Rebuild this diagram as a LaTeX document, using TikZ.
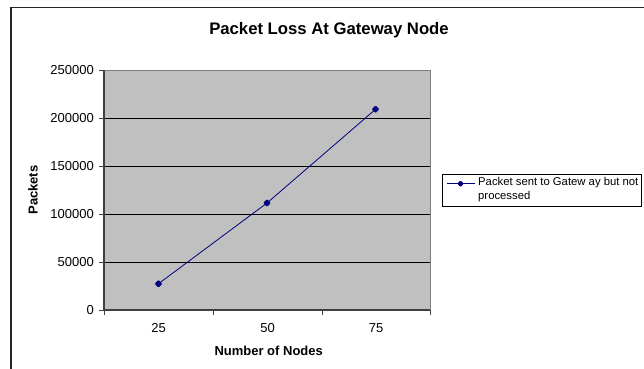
\documentclass[tikz,border=0pt]{standalone}
\usepackage{fontspec}
\setmainfont{Liberation Sans}
\usetikzlibrary{shapes.geometric}
\definecolor{plotbg}{HTML}{C0C0C0}
\definecolor{series}{HTML}{000080}
\definecolor{axisdark}{HTML}{404040}
\definecolor{frameedge}{HTML}{808080}
\tikzset{
  px/.style={x=1pt,y=-1pt},
  ticklabel/.style={font=\fontsize{13}{13}\selectfont, inner sep=0pt},
  axistitle/.style={font=\bfseries\fontsize{13}{13}\selectfont, inner sep=0pt},
  gridline/.style={draw=black, line width=0.8pt},
  datapt/.style={diamond, fill=series, draw=series, line width=0.6pt, rounded corners=0.8pt, inner sep=0pt, minimum size=7pt},
  serie/.style={draw=series, line width=0.8pt}
}
\begin{document}
\begin{tikzpicture}[px]
\useasboundingbox (0,0) rectangle (644,368);
% chart frame (continues past the page edges)
\draw[line width=1.4pt, draw=black!85] (11,370) -- (11,7.5) -- (646,7.5);
% title
\node[font=\bfseries\fontsize{16.7}{16.7}\selectfont, inner sep=0pt] (title) at (329,30) {Packet Loss At Gateway Node};
% plot area
\fill[plotbg] (104,70) rectangle (430,310);
\draw[frameedge, line width=0.9pt] (104,70) -- (430,70) -- (430,310);
% horizontal grid lines (values in thousands, 0.96 px per thousand)
\foreach \v in {50,100,150,200} {
  \draw[gridline] (104,{310-\v*0.96}) -- (430,{310-\v*0.96});
}
% axes
\draw[axisdark, line width=1.3pt] (104,70) -- (104,310) -- (430,310);
% y ticks and labels
\foreach \v/\t in {0/0,50/50000,100/100000,150/150000,200/200000,250/250000} {
  \draw[axisdark, line width=0.9pt] (99,{310-\v*0.96}) -- (104,{310-\v*0.96});
  \node[ticklabel, anchor=east] at (94,{310-\v*0.96}) {\t};
}
% x ticks
\foreach \x in {104,213,322,430} {
  \draw[axisdark, line width=0.9pt] (\x,310) -- (\x,314.5);
}
% x labels
\node[ticklabel] (l25) at (158.5,328) {25};
\node[ticklabel] (l50) at (267.5,328) {50};
\node[ticklabel] (l75) at (376,328) {75};
% axis titles
\node[axistitle, rotate=90] (ytitle) at (33,190) {Packets};
\node[axistitle] (xtitle) at (268.7,350.7) {Number of Nodes};
% data series
\node[datapt] (p25) at (158.5,283.7) {};
\node[datapt] (p50) at (267,203) {};
\node[datapt] (p75) at (375.5,109.3) {};
\draw[serie] (p25.center) -- (p50.center) -- (p75.center);
% legend
\draw[black, line width=0.9pt] (442.5,174) rectangle (641.3,206.3);
\coordinate (la) at (446.6,183.7);
\coordinate (lb) at (475.3,183.7);
\draw[serie] (la) -- (lb);
\node[datapt, minimum size=6pt] (lm) at (460.5,183.7) {};
\node[font=\fontsize{11.3}{13.5}\selectfont, anchor=north west, inner sep=0pt, align=left] (legtext) at (478,177.5) {Packet sent to Gatew ay but not\\processed};
\end{tikzpicture}
\end{document}
